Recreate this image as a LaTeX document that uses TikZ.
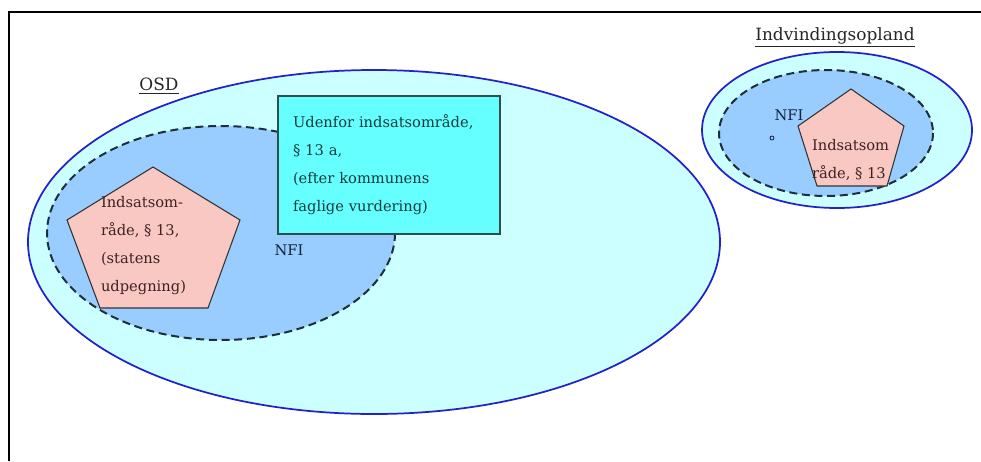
\documentclass[tikz,border=0pt]{standalone}
\usepackage{fontspec}
\setmainfont{DejaVu Serif}
\definecolor{osdfill}{HTML}{CCFFFF}
\definecolor{osdline}{HTML}{2222CC}
\definecolor{nfifill}{HTML}{99CCFF}
\definecolor{nfiline}{HTML}{1E2E3A}
\definecolor{indsatsfill}{HTML}{FAC8C2}
\definecolor{udenforfill}{HTML}{66FFFF}
\definecolor{udenforline}{HTML}{2F4F4F}
\definecolor{tealtext}{HTML}{143C3C}
\definecolor{browntext}{HTML}{3C2222}
\definecolor{navytext}{HTML}{14223C}

\begin{document}
\begin{tikzpicture}[x=0.75pt,y=-0.75pt,every node/.style={outer sep=0pt,inner sep=0pt},
 zone/.style={draw=osdline,line width=1.3pt,fill=osdfill},
 nfizone/.style={draw=nfiline,line width=1.5pt,dash pattern=on 6pt off 3.5pt,fill=nfifill},
 indsats/.style={draw=black!80,line width=0.8pt,fill=indsatsfill,line join=miter},
 udenfor/.style={draw=udenforline,line width=0.9pt,fill=udenforfill,minimum width=166.5pt,
 minimum height=103.5pt,text width=144pt,align=left,text=tealtext},
 txt/.style={font=\fontsize{11}{21}\selectfont,align=left},
 title/.style={font=\fontsize{12.7}{14}\selectfont,text=black!85}]

\useasboundingbox (0,0) rectangle (981,461);
\fill[white] (0,0) rectangle (981,461);
\draw[line width=1.6pt] (9,461) -- (9,12) -- (981,12);

% OSD
\draw[zone] (374,242) ellipse [x radius=346, y radius=172];
\draw[nfizone] (221,233) ellipse [x radius=174, y radius=107];
\draw[indsats] (153,167) -- (240,220) -- (208,308) -- (100,308) -- (67,220) -- cycle;
\node[udenfor,txt] (udenfor) at (389,165) {Udenfor indsatsområde,\\ § 13 a,\\ (efter kommunens\\ faglige vurdering)};
\node[txt,anchor=west,text=browntext] (indsats1) at (101,246) {Indsatsom-\\ råde, § 13,\\ (statens\\ udpegning)};
\node[txt,text=navytext] (nfi1) at (289,250) {NFI};
\node[title] (osd) at (159,86) {\underline{OSD}};

% Indvindingsopland
\draw[zone] (837,130) ellipse [x radius=135, y radius=78];
\draw[nfizone] (826,133) ellipse [x radius=107, y radius=63];
\draw[indsats] (851,89) -- (904,126) -- (887,186) -- (817,186) -- (798,126) -- cycle;
\node[txt,text=navytext] (nfi2) at (789,115) {NFI};
\draw[navytext,line width=0.6pt] (772,138) circle [radius=2];
\node[txt,anchor=west,text=browntext] (indsats2) at (812,160) {Indsatsom\\ råde, § 13};
\node[title] (opland) at (835,37) {\underline{Indvindingsopland}};

\end{tikzpicture}
\end{document}
